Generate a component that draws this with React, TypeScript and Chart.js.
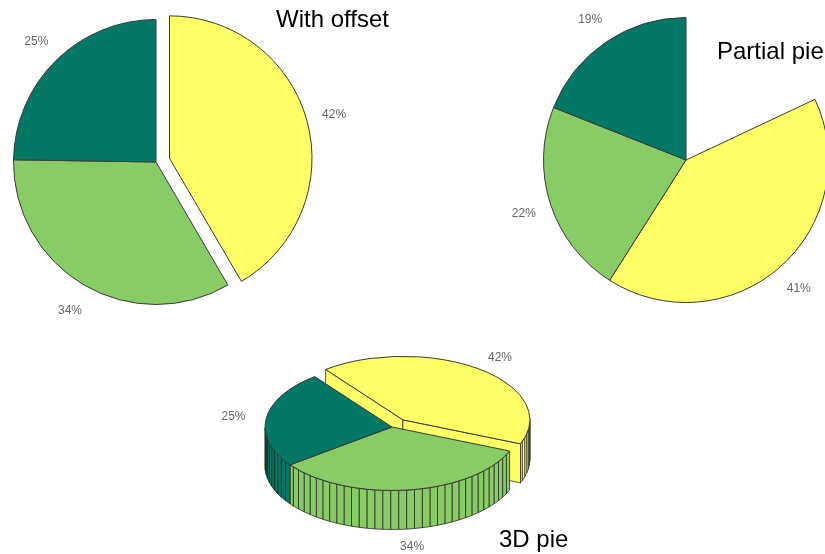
import React, { useEffect, useRef } from "react";
import { Chart, registerables } from "chart.js";

Chart.register(...registerables);

// Slice percentages, one list per pie, yellow slice first.
const offsetValues = [42, 34, 25];
const partialValues = [41, 22, 19];
const pie3dValues = [42, 34, 25];

const sliceColors = ["#FFFF66", "#88CC66", "#007864"];
const outlineColor = "#3a3a3a";
const facetLineColor = "rgba(30,30,30,0.72)";
const labelColor = "#666666";

const offsetExplode = [14, 0, 0];
const noExplode = [0, 0, 0];
const pie3dExplode = [18, 0, 0];

const titles = [
  { text: "With offset", left: 276, top: 5 },
  { text: "Partial pie", left: 717, top: 37 },
  { text: "3D pie", left: 499, top: 525 },
];

const PAD = 50;
const TILT = 0.5; // vertical squash of the 3D pie's top face
const DEPTH = 39; // wall height of the 3D pie
const FACET_DEG = 3.6;

type PieProps = {
  values: number[];
  rotation: number;
  circumference: number;
  explode: number[];
  left: number;
  top: number;
  size: number;
  labelGap: number;
  solid?: boolean;
};

const midAngle = (a: any) => (a.startAngle + a.endAngle) / 2;

// Moves exploded slices outward once the controller has laid them out.
const explodePlugin = (explode: number[]) => ({
  id: "explode",
  afterDatasetsUpdate(chart: any) {
    chart.getDatasetMeta(0).data.forEach((arc: any, i: number) => {
      const m = midAngle(arc);
      arc.x += Math.cos(m) * explode[i];
      arc.y += Math.sin(m) * explode[i];
    });
  },
});

const squash = (ctx: CanvasRenderingContext2D, cx: number, cy: number) => {
  ctx.translate(cx, cy);
  ctx.scale(1, TILT);
  ctx.translate(-cx, -cy);
};

// Draws the cylinder walls and cut faces under the pie, then squashes the top faces.
const solidPlugin = (explode: number[]) => ({
  id: "solid",
  beforeDatasetsDraw(chart: any) {
    const { ctx, chartArea } = chart;
    const cx = (chartArea.left + chartArea.right) / 2;
    const cy = (chartArea.top + chartArea.bottom) / 2;
    const px = (arc: any, a: number) => arc.x + Math.cos(a) * arc.outerRadius;
    const py = (arc: any, a: number) =>
      cy + (arc.y - cy + Math.sin(a) * arc.outerRadius) * TILT;
    const quad = (pts: number[][], fill: string) => {
      ctx.beginPath();
      pts.forEach(([x, y], i) => (i ? ctx.lineTo(x, y) : ctx.moveTo(x, y)));
      ctx.closePath();
      ctx.fillStyle = fill;
      ctx.fill();
      ctx.strokeStyle = facetLineColor;
      ctx.lineWidth = 1;
      ctx.stroke();
    };
    chart.getDatasetMeta(0).data.forEach((arc: any, i: number) => {
      const fill = sliceColors[i];
      if (explode[i] > 0) {
        const ax = arc.x;
        const ay = cy + (arc.y - cy) * TILT;
        [arc.startAngle, arc.endAngle].forEach((a: number) => {
          const x = px(arc, a);
          const y = py(arc, a);
          quad([[ax, ay], [x, y], [x, y + DEPTH], [ax, ay + DEPTH]], fill);
        });
      }
      const step = (FACET_DEG * Math.PI) / 180;
      const steps = Math.ceil((arc.endAngle - arc.startAngle) / step);
      for (let k = 0; k < steps; k++) {
        const a0 = arc.startAngle + k * step;
        const a1 = Math.min(a0 + step, arc.endAngle);
        if (Math.sin((a0 + a1) / 2) <= 0) continue;
        quad(
          [
            [px(arc, a0), py(arc, a0)],
            [px(arc, a1), py(arc, a1)],
            [px(arc, a1), py(arc, a1) + DEPTH],
            [px(arc, a0), py(arc, a0) + DEPTH],
          ],
          fill,
        );
      }
    });
    ctx.save();
    squash(ctx, cx, cy);
  },
  afterDatasetsDraw(chart: any) {
    const { ctx, chartArea } = chart;
    ctx.restore();
    const cx = (chartArea.left + chartArea.right) / 2;
    const cy = (chartArea.top + chartArea.bottom) / 2;
    // Outline traced in the squashed space but stroked in page space, for an even line.
    chart.getDatasetMeta(0).data.forEach((arc: any) => {
      ctx.save();
      squash(ctx, cx, cy);
      ctx.beginPath();
      ctx.moveTo(arc.x, arc.y);
      ctx.arc(arc.x, arc.y, arc.outerRadius, arc.startAngle, arc.endAngle);
      ctx.closePath();
      ctx.restore();
      ctx.strokeStyle = outlineColor;
      ctx.lineWidth = 1;
      ctx.stroke();
    });
  },
});

// Percent text around each slice; in 3D the front labels drop below the wall.
const labelPlugin = (values: number[], gap: number, solid: boolean) => ({
  id: "sliceLabels",
  afterDraw(chart: any) {
    const { ctx, chartArea } = chart;
    const cy = (chartArea.top + chartArea.bottom) / 2;
    ctx.save();
    ctx.font = '12px "Liberation Sans"';
    ctx.fillStyle = labelColor;
    ctx.textAlign = "center";
    ctx.textBaseline = "middle";
    chart.getDatasetMeta(0).data.forEach((arc: any, i: number) => {
      const m = midAngle(arc);
      const r = arc.outerRadius + gap;
      const x = arc.x + Math.cos(m) * r;
      let y = arc.y + Math.sin(m) * r;
      if (solid) {
        y = cy + (y - cy) * TILT + (Math.sin(m) > 0.5 ? DEPTH : 0);
      }
      ctx.fillText(`${values[i]}%`, x, y + 1);
    });
    ctx.restore();
  },
});

function Pie({ values, rotation, circumference, explode, left, top, size, labelGap, solid }: PieProps) {
  const ref = useRef<HTMLCanvasElement>(null);
  useEffect(() => {
    const chart = new Chart(ref.current as HTMLCanvasElement, {
      type: "pie",
      data: {
        labels: values.map((v) => `${v}%`),
        datasets: [
          {
            data: values,
            backgroundColor: sliceColors,
            borderColor: outlineColor,
            borderWidth: solid ? 0 : 1,
            rotation,
            circumference,
          },
        ],
      },
      options: {
        responsive: false,
        animation: false,
        layout: { padding: PAD },
        plugins: { legend: { display: false }, tooltip: { enabled: false } },
      },
      plugins: [
        explodePlugin(explode),
        ...(solid ? [solidPlugin(explode)] : []),
        labelPlugin(values, labelGap, !!solid),
      ],
    } as any);
    return () => chart.destroy();
  }, []);
  return (
    <canvas
      ref={ref}
      width={size}
      height={size}
      style={{ position: "absolute", left, top, width: size, height: size }}
    />
  );
}

export default function App() {
  const partialSweep = partialValues.reduce((s, v) => s + v, 0) * 3.6;
  return (
    <div style={{ position: "fixed", inset: 0, overflow: "hidden", background: "#fff" }}>
      <Pie values={offsetValues} rotation={0} circumference={360} explode={offsetExplode}
        left={-37} top={-31} size={386} labelGap={28} />
      <Pie values={partialValues} rotation={360 - partialSweep} circumference={partialSweep} explode={noExplode}
        left={493} top={-33} size={386} labelGap={28} />
      <Pie values={pie3dValues} rotation={-37.5} circumference={360} explode={pie3dExplode}
        left={215} top={250} size={354} labelGap={33} solid />
      {titles.map((t) => (
        <div key={t.text} style={{
          position: "absolute", left: t.left, top: t.top, whiteSpace: "nowrap",
          font: '24px "Liberation Sans"', lineHeight: "28px", color: "#000",
        }}>{t.text}</div>
      ))}
    </div>
  );
}
